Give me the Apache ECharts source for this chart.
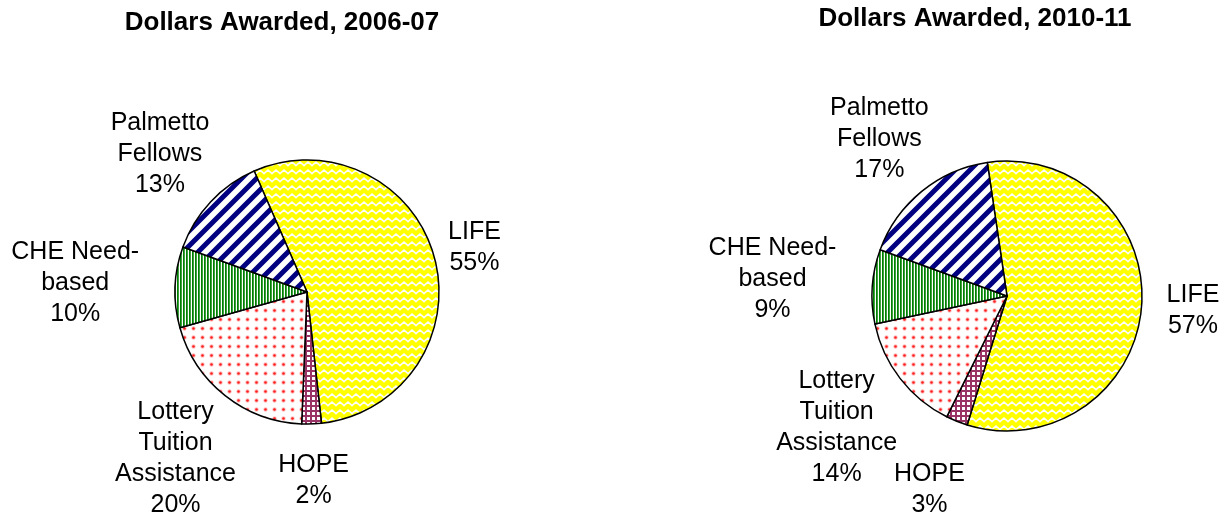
<!DOCTYPE html>
<html>
<head>
<meta charset="utf-8">
<script src="https://cdn.jsdelivr.net/npm/echarts@6/dist/echarts.min.js"></script>
<style>
  html, body { margin: 0; padding: 0; background: #fff; }
  #chart { width: 1229px; height: 525px; }
</style>
</head>
<body>
<div id="chart"></div>
<script>
// slice order, clockwise from the top
const categories = ["LIFE", "HOPE", "Lottery Tuition Assistance", "CHE Need-based", "Palmetto Fellows"];
const share0607 = [54.8, 2.4, 20.0, 9.9, 12.9];
const share1011 = [57.1, 2.6, 14.3, 8.9, 17.1];
const titles = ["Dollars Awarded, 2006-07", "Dollars Awarded, 2010-11"];

// how labels wrap, like in the original
const wrapped = {
  "LIFE": "LIFE",
  "HOPE": "HOPE",
  "Lottery Tuition Assistance": "Lottery\nTuition\nAssistance",
  "CHE Need-based": "CHE Need-\nbased",
  "Palmetto Fellows": "Palmetto\nFellows"
};

// gap between pie edge and label box
const gapsLeft = [14, 26, 1, 36, 2];
const gapsRight = [25, 40, 4, 36, 7];

const FONT = "'Liberation Sans', Arial, sans-serif";

function tile(w, h, draw) {
  const c = document.createElement("canvas");
  c.width = w;
  c.height = h;
  const g = c.getContext("2d");
  g.fillStyle = "#ffffff";
  g.fillRect(0, 0, w, h);
  draw(g, w, h);
  return { image: c, repeat: "repeat" };
}

// fill patterns
const patLife = tile(8, 8, (g) => {
  g.fillStyle = "#ffff00";
  g.fillRect(0, 0, 8, 8);
  g.strokeStyle = "#ffffff";
  g.lineWidth = 1.6;
  g.beginPath();
  g.moveTo(-1, 6.5); g.lineTo(4, 2); g.lineTo(9, 6.5);
  g.moveTo(-1, 14.5); g.lineTo(4, 10); g.lineTo(9, 14.5);
  g.moveTo(-1, -1.5); g.lineTo(4, -6); g.lineTo(9, -1.5);
  g.stroke();
});
const patPalmetto = tile(15, 15, (g) => {
  g.strokeStyle = "#000080";
  g.lineWidth = 5;
  g.beginPath();
  g.moveTo(-2, 17); g.lineTo(17, -2);
  g.moveTo(-3, 3); g.lineTo(3, -3);
  g.moveTo(12, 18); g.lineTo(18, 12);
  g.stroke();
});
const patChe = tile(3, 1, (g) => {
  g.fillStyle = "#008000";
  g.fillRect(0, 0, 1, 1);
  g.fillStyle = "#40a040";
  g.fillRect(1, 0, 1, 1);
});
const patLottery = tile(9, 9, (g) => {
  g.fillStyle = "#ffc0c0";
  g.beginPath(); g.arc(4.5, 4.5, 2.2, 0, Math.PI * 2); g.fill();
  g.fillStyle = "#ff2020";
  g.beginPath(); g.arc(4.5, 4.5, 1.3, 0, Math.PI * 2); g.fill();
});
const patHope = tile(5, 5, (g) => {
  g.fillStyle = "#993366";
  g.fillRect(0, 0, 5, 2);
  g.fillRect(0, 0, 2, 5);
});
const patterns = [patLife, patHope, patLottery, patChe, patPalmetto];

// place each label box just outside the pie, along the slice's middle direction
function placeLabel(params) {
  const pts = params.labelLinePoints;
  if (!pts || pts.length < 2) return {};
  const dx = pts[1][0] - pts[0][0];
  const dy = pts[1][1] - pts[0][1];
  const len = Math.hypot(dx, dy) || 1;
  const nx = dx / len, ny = dy / len;
  const w = params.labelRect.width, h = params.labelRect.height;
  const half = Math.min(
    Math.abs(nx) > 1e-6 ? w / 2 / Math.abs(nx) : Infinity,
    Math.abs(ny) > 1e-6 ? h / 2 / Math.abs(ny) : Infinity
  );
  return {
    x: pts[0][0] + nx * (len + half),
    y: pts[0][1] + ny * (len + half),
    align: "center",
    verticalAlign: "middle"
  };
}

function pieSeries(values, gaps, center, radius, startAngle) {
  return {
    type: "pie",
    center: center,
    radius: radius,
    startAngle: startAngle,
    clockwise: true,
    avoidLabelOverlap: false,
    animation: false,
    itemStyle: { borderColor: "#000", borderWidth: 1.5 },
    label: {
      show: true,
      position: "outside",
      overflow: "none",
      color: "#000",
      fontFamily: FONT,
      fontSize: 25,
      lineHeight: 31,
      formatter: (p) => wrapped[p.name] + "\n" + Math.round(p.percent) + "%"
    },
    labelLine: { show: true, lineStyle: { opacity: 0 } },
    labelLayout: placeLabel,
    emphasis: { disabled: true },
    data: categories.map((name, i) => ({
      name: name,
      value: values[i],
      itemStyle: { color: patterns[i] },
      labelLine: { length: Math.max(gaps[i], 1), length2: 0 }
    }))
  };
}

const chart = echarts.init(document.getElementById("chart"));
chart.setOption({
  backgroundColor: "#fff",
  title: [
    {
      text: titles[0], left: 277, top: 5, textAlign: "center",
      textStyle: { fontFamily: FONT, fontSize: 26, fontWeight: "bold", color: "#000" }
    },
    {
      text: titles[1], left: 970, top: 1, textAlign: "center",
      textStyle: { fontFamily: FONT, fontSize: 26, fontWeight: "bold", color: "#000" }
    }
  ],
  series: [
    pieSeries(share0607, gapsLeft, [307, 292], 132, 113.6),
    pieSeries(share1011, gapsRight, [1007, 296], 135, 98.4)
  ]
});
</script>
</body>
</html>
